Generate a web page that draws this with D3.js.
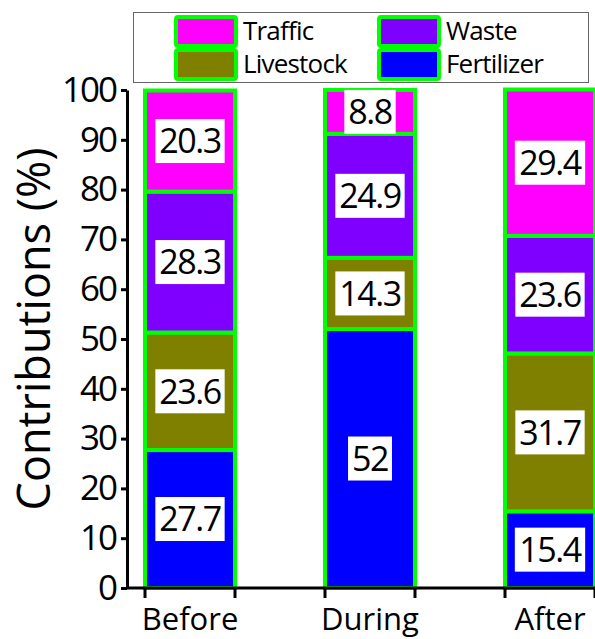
<!DOCTYPE html>
<html>
<head>
<meta charset="utf-8">
<script src="https://cdn.jsdelivr.net/npm/d3@7"></script>
<style>
    body { margin: 0; background: #fff; }
    text { font-family: "Open Sans", sans-serif; fill: #000; }
</style>
</head>
<body>
<svg id="chart"></svg>
<script>
const periods = ["Before", "During", "After"];
const sources = ["Fertilizer", "Livestock", "Waste", "Traffic"];
const fertilizer = [27.7, 52, 15.4];
const livestock = [23.6, 14.3, 31.7];
const waste = [28.3, 24.9, 23.6];
const traffic = [20.3, 8.8, 29.4];
const yTicks = [0, 10, 20, 30, 40, 50, 60, 70, 80, 90, 100];
const legendOrder = ["Traffic", "Waste", "Livestock", "Fertilizer"];

const width = 595, height = 639;
const color = {
    Fertilizer: "#0000ff",
    Livestock: "#808000",
    Waste: "#7f00ff",
    Traffic: "#ff00ff"
};
const green = "#00ff00";

const rows = periods.map((p, i) => ({
    period: p,
    Fertilizer: fertilizer[i],
    Livestock: livestock[i],
    Waste: waste[i],
    Traffic: traffic[i]
}));

const svg = d3.select("#chart")
    .attr("width", width)
    .attr("height", height);

const x = d3.scaleBand()
    .domain(periods)
    .range([100, 640])
    .paddingInner(0.5)
    .paddingOuter(0.25);

const y = d3.scaleLinear()
    .domain([0, 100])
    .range([588, 90]);

const stacked = d3.stack().keys(sources)(rows);

// bars
const layers = svg.append("g")
    .selectAll("g")
    .data(stacked)
    .join("g")
    .attr("fill", d => color[d.key]);

layers.selectAll("rect")
    .data(d => d)
    .join("rect")
    .attr("x", d => x(d.data.period))
    .attr("width", x.bandwidth())
    .attr("y", d => y(d[1]))
    .attr("height", d => y(d[0]) - y(d[1]))
    .attr("stroke", green)
    .attr("stroke-width", 4);

// value labels with white boxes
const labels = svg.append("g");
stacked.forEach(layer => {
    layer.forEach(d => {
        const cx = x(d.data.period) + x.bandwidth() / 2;
        const cy = y((d[0] + d[1]) / 2);
        const g = labels.append("g");
        const box = g.append("rect").attr("fill", "#fff");
        const t = g.append("text")
            .attr("x", cx)
            .attr("y", cy)
            .attr("dy", "0.36em")
            .attr("text-anchor", "middle")
            .style("font-size", "34px")
            .style("letter-spacing", "-1.5px")
            .text(d.data[layer.key]);
        const bb = t.node().getBBox();
        box.attr("x", cx - bb.width / 2 - 4)
            .attr("width", bb.width + 8)
            .attr("y", cy - 22)
            .attr("height", 44);
    });
});

// y axis
const yAxis = svg.append("g")
    .attr("transform", "translate(127,0)")
    .call(d3.axisLeft(y).tickValues(yTicks).tickSize(6).tickSizeOuter(0).tickPadding(5));
yAxis.select(".domain").attr("stroke-width", 3);
yAxis.selectAll(".tick line").attr("stroke-width", 3);
yAxis.selectAll(".tick text")
    .style("font-size", "35px")
    .style("letter-spacing", "-2px")
    .attr("font-family", null);

// x axis
const xAxis = svg.append("g")
    .attr("transform", "translate(0,588)")
    .call(d3.axisBottom(x).tickSize(0).tickPadding(20));
xAxis.select(".domain").attr("d", "M127,0H595").attr("stroke-width", 3);
xAxis.selectAll(".tick text")
    .style("font-size", "31px")
    .attr("font-family", null);

xAxis.append("g")
    .selectAll("line")
    .data(periods.flatMap(p => [x(p), x(p) + x.bandwidth()]))
    .join("line")
    .attr("x1", d => d)
    .attr("x2", d => d)
    .attr("y1", 0)
    .attr("y2", 10)
    .attr("stroke", "#000")
    .attr("stroke-width", 3);

// y title
svg.append("text")
    .attr("transform", "translate(50,329) rotate(-90)")
    .attr("text-anchor", "middle")
    .style("font-size", "45px")
    .text("Contributions (%)");

// legend
const legend = svg.append("g");
legend.append("rect")
    .attr("x", 133.5)
    .attr("y", 12.5)
    .attr("width", 455)
    .attr("height", 70)
    .attr("fill", "none")
    .attr("stroke", "#666")
    .attr("stroke-width", 1);

const item = legend.selectAll(".item")
    .data(legendOrder)
    .join("g")
    .attr("class", "item")
    .attr("transform", (d, i) => `translate(${i % 2 === 0 ? 176 : 379},${i < 2 ? 17 : 50})`);

item.append("rect")
    .attr("width", 60)
    .attr("height", 29)
    .attr("rx", 2)
    .attr("fill", d => color[d])
    .attr("stroke", green)
    .attr("stroke-width", 4);

item.append("text")
    .attr("x", 67)
    .attr("y", 23)
    .style("font-size", "26px")
    .style("letter-spacing", "-0.8px")
    .text(d => d);
</script>
</body>
</html>
